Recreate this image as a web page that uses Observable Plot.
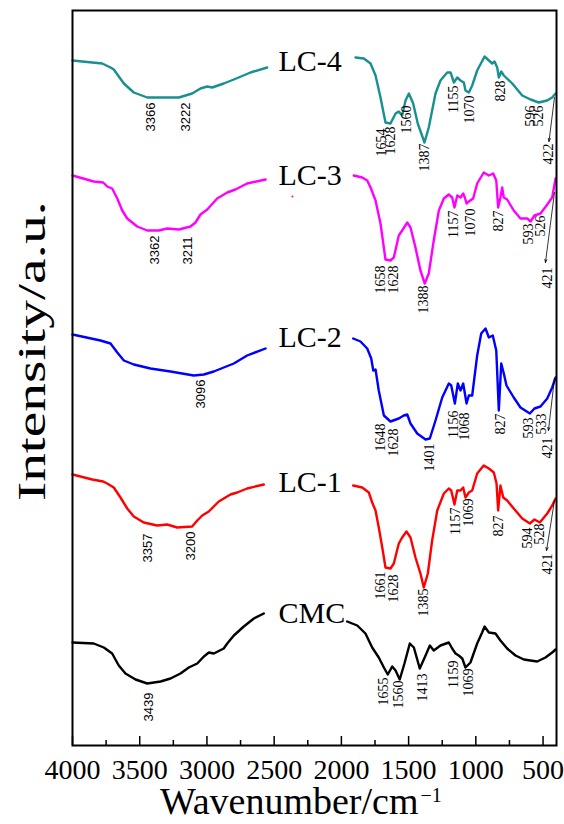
<!DOCTYPE html>
<html><head><meta charset="utf-8">
<script src="https://cdn.jsdelivr.net/npm/d3@7"></script>
<script src="https://cdn.jsdelivr.net/npm/@observablehq/plot@0.6"></script>
<style>html,body{margin:0;padding:0;background:#fff}</style>
</head><body><div id="chart"></div>
<script>
// ---- data (wavenumber cm-1, intensity a.u. with vertical offsets) ----
const seriesNames = ["LC-4", "LC-3", "LC-2", "LC-1", "CMC"];
const lc4 = [[4000,685],[3779,682],[3717,678],[3693,676],[3618,662],[3544,653],[3444,648],[3345,648],[3209,648],[3110,652],[3048,657],[2998,659],[2961,658],[2875,662],[2800,666],[2676,673],[2552,678],[2200,null],
 [1895,688],[1833,687],[1783,682],[1746,670],[1709,648],[1672,623],[1635,622],[1597,632],[1573,634],[1548,630],[1523,645],[1498,652],[1466,642],[1432,622],[1382,603],[1350,618],[1300,652],[1263,665],[1213,673],[1188,673],[1163,663],[1138,668],[1114,665],[1089,663],[1077,655],[1052,653],[1027,660],[990,675],[935,689],[903,685],[878,682],[861,684],[841,678],[829,668],[811,674],[792,670],[729,662],[655,650],[593,646],[532,643],[469,645],[432,648],[407,652]];
const lc3 = [[4000,570],[3842,564],[3772,563],[3742,559],[3705,557],[3667,547],[3630,535],[3593,527],[3519,519],[3444,515],[3358,515],[3296,517],[3209,516],[3122,519],[3085,523],[3048,531],[2998,536],[2924,547],[2849,553],[2788,556],[2701,562],[2564,566],[2200,null],
 [1908,570],[1845,568],[1808,565],[1783,558],[1746,545],[1709,522],[1672,486],[1635,485],[1610,488],[1573,510],[1548,515],[1510,523],[1486,518],[1449,498],[1412,475],[1380,462],[1350,472],[1313,505],[1275,535],[1238,547],[1201,551],[1176,548],[1159,538],[1138,550],[1114,548],[1094,552],[1082,548],[1069,542],[1052,544],[1020,547],[990,562],[941,573],[903,570],[871,572],[848,565],[834,538],[817,548],[804,558],[792,548],[767,546],[718,535],[668,527],[618,527],[593,524],[564,530],[519,532],[474,540],[432,548],[407,567]];
const lc2 = [[4000,411],[3792,405],[3717,402],[3667,393],[3618,385],[3544,381],[3420,377],[3271,374],[3098,370],[3023,371],[2949,374],[2875,378],[2800,382],[2701,390],[2564,397],[2200,null],
 [1912,407],[1858,404],[1808,397],[1778,387],[1763,375],[1746,376],[1722,355],[1684,330],[1635,324],[1573,327],[1536,330],[1510,331],[1486,322],[1436,312],[1374,306],[1342,307],[1300,325],[1250,348],[1201,362],[1183,360],[1156,342],[1134,362],[1114,355],[1094,362],[1069,342],[1052,350],[1027,350],[990,390],[960,412],[928,417],[903,408],[874,410],[848,395],[829,335],[811,382],[792,372],[772,360],[718,348],[668,338],[598,332],[564,337],[519,339],[469,347],[432,358],[407,368]];
const lc1 = [[4000,271],[3853,266],[3772,264],[3742,262],[3693,258],[3643,248],[3593,237],[3544,229],[3470,223],[3370,220],[3296,221],[3221,218],[3110,219],[3072,225],[3035,230],[2986,234],[2912,244],[2825,251],[2775,253],[2701,257],[2577,261],[2200,null],
 [1912,260],[1845,258],[1796,253],[1771,243],[1746,235],[1722,218],[1696,198],[1672,178],[1635,177],[1610,182],[1573,202],[1548,208],[1516,214],[1486,208],[1449,188],[1412,172],[1387,158],[1357,172],[1325,205],[1287,235],[1238,252],[1201,257],[1183,255],[1159,241],[1138,255],[1114,255],[1094,258],[1077,248],[1052,253],[1027,255],[990,272],[941,280],[903,277],[866,273],[846,262],[834,235],[817,260],[796,248],[767,245],[718,237],[655,227],[598,222],[564,226],[524,223],[469,232],[432,240],[407,247]];
const cmc = [[4000,103],[3842,102],[3767,98],[3705,92],[3656,80],[3606,72],[3531,66],[3444,62],[3345,64],[3271,67],[3197,72],[3135,78],[3072,82],[3023,89],[2986,93],[2949,92],[2875,97],[2849,102],[2800,110],[2726,119],[2651,127],[2577,132],[2200,null],
 [1957,124],[1882,120],[1821,112],[1771,98],[1722,88],[1684,78],[1655,71],[1622,79],[1597,75],[1566,66],[1531,82],[1491,102],[1461,98],[1417,77],[1374,90],[1342,100],[1313,95],[1263,100],[1201,103],[1176,97],[1151,92],[1127,90],[1101,87],[1077,78],[1040,83],[990,102],[953,113],[935,119],[903,113],[854,112],[817,105],[767,97],[705,90],[643,86],[544,84],[482,88],[432,93],[407,96]];
const seriesData = [lc4, lc3, lc2, lc1, cmc];
const seriesLabelY = [684, 570, 408, 263, 132];
const seriesLabelX = 2468;

// peak annotations: [text, wavenumber at label, intensity at label top]
const lc4Peaks = [["3366",3420,643],["3222",3160,643],["1654",1704,617],["1628",1635,619],["1560",1516,640],["1387",1380,602],["1155",1168,660],["1070",1045,650],["828",817,665],["596",593,640],["526",532,640],["422",457,602]];
const lc3Peaks = [["3362",3388,510],["3211",3139,509],["1658",1709,480],["1628",1610,480],["1388",1387,460],["1157",1168,535],["1070",1040,537],["827",829,535],["593",606,522],["526",519,530],["421",469,478]];
const lc2Peaks = [["3096",3048,366],["1648",1709,322],["1628",1610,317],["1401",1342,302],["1156",1164,335],["1068",1082,333],["827",817,332],["593",606,328],["533",514,332],["421",465,308]];
const lc1Peaks = [["3357",3440,212],["3200",3122,214],["1661",1709,174],["1628",1610,171],["1385",1387,157],["1157",1151,238],["1069",1052,247],["827",829,230],["594",618,218],["528",524,222],["421",469,192]];
const cmcPeaks = [["3439",3432,53],["1655",1684,68],["1560",1573,65],["1413",1399,72],["1159",1164,85],["1069",1057,77]];
// arrows to the 421/422 labels: [wn1, int1, wn2, int2]
const arrowsData = [[415,648,456,604],[415,553,482,483],[415,367,460,315],[415,245,474,195]];
const strayDot = [[2364,549]];

const majorTicks = [4000,3500,3000,2500,2000,1500,1000,500];
const minorTicks = [3750,3250,2750,2250,1750,1250,750];

// ---- build tables ----
const lineRows = seriesData.flatMap((arr, i) => arr.map(([wn, v]) => ({series: seriesNames[i], wn, v})));
const peakRows = [lc4Peaks, lc3Peaks, lc2Peaks, lc1Peaks, cmcPeaks].flatMap(a => a.map(([t, wn, v]) => ({t, wn, v})));
const highPeaks = peakRows.filter(d => d.wn > 2500);
const lowPeaks = peakRows.filter(d => d.wn <= 2500);
const nameRows = seriesNames.map((s, i) => ({s, wn: seriesLabelX, v: seriesLabelY[i]}));

const serif = "'Liberation Serif', 'Times New Roman', serif";
const sans = "'Liberation Sans', Arial, sans-serif";

const chart = Plot.plot({
  width: 564, height: 824,
  marginLeft: 72, marginRight: 8, marginTop: 10, marginBottom: 79,
  style: {fontFamily: serif, background: "#fff", color: "#000"},
  x: {domain: [4000, 400], axis: null},
  y: {domain: [0, 735], axis: null},
  color: {domain: seriesNames, range: ["#17908f", "#ff00ff", "#0000ff", "#ff0000", "#000000"]},
  marks: [
    Plot.line(lineRows, {x: "wn", y: "v", z: "series", stroke: "series", strokeWidth: 2.4, curve: "linear"}),
    Plot.dot(strayDot, {x: d => d[0], y: d => d[1], r: 1, fill: "#ff00ff", stroke: null}),
    Plot.text(nameRows, {x: "wn", y: "v", text: "s", textAnchor: "start", lineAnchor: "middle", fontSize: 30, fill: "#000"}),
    Plot.text(highPeaks, {x: "wn", y: "v", text: "t", rotate: -90, textAnchor: "end", lineAnchor: "middle", fontSize: 13, fontFamily: sans, fill: "#000"}),
    Plot.text(lowPeaks, {x: "wn", y: "v", text: "t", rotate: -90, textAnchor: "end", lineAnchor: "middle", fontSize: 14, fill: "#000"}),
    Plot.arrow(arrowsData, {x1: d => d[0], y1: d => d[1], x2: d => d[2], y2: d => d[3], stroke: "#000", strokeWidth: 0.8, headLength: 6, headAngle: 40}),
    Plot.ruleX(majorTicks, {x: d => d, insetTop: 735 - 9, stroke: "#000", strokeWidth: 1.5}),
    Plot.ruleX(minorTicks, {x: d => d, insetTop: 735 - 5, stroke: "#000", strokeWidth: 1.5}),
    Plot.frame({stroke: "#000", strokeWidth: 2}),
    Plot.axisX({ticks: majorTicks, tickSize: 0, tickPadding: 14, fontSize: 28, tickFormat: d => String(d), label: null}),
    Plot.text(["Wavenumber/cm"], {frameAnchor: "bottom-left", dx: 346, dy: 56, textAnchor: "end", lineAnchor: "middle", fontSize: 38, fill: "#000"}),
    Plot.text(["\u22121"], {frameAnchor: "bottom-left", dx: 348, dy: 50, textAnchor: "start", lineAnchor: "middle", fontSize: 20, fill: "#000"}),
    Plot.text(["Intensity/a.u."], {frameAnchor: "left", rotate: -90, dx: -40, dy: -27, textAnchor: "middle", lineAnchor: "middle", fontSize: 40, fill: "#000"})
  ]
});
d3.select(chart).selectAll("text")
  .filter(function () { return this.textContent === "Intensity/a.u."; })
  .attr("textLength", 300).attr("lengthAdjust", "spacingAndGlyphs");
document.getElementById("chart").appendChild(chart);
</script>
</body></html>
